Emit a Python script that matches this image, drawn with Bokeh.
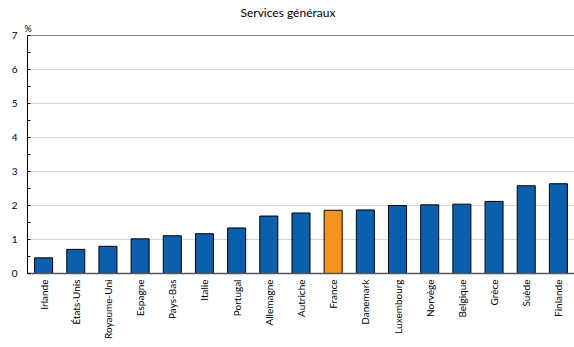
import math
from bokeh.plotting import figure
from bokeh.models import ColumnDataSource, Span, Title, FixedTicker
from bokeh.embed import file_html
from bokeh.resources import INLINE

countries = ["Irlande", "États-Unis", "Royaume-Uni", "Espagne", "Pays-Bas", "Italie",
             "Portugal", "Allemagne", "Autriche", "France", "Danemark", "Luxembourg",
             "Norvège", "Belgique", "Grèce", "Suède", "Finlande"]
values = [0.46, 0.71, 0.80, 1.02, 1.11, 1.17, 1.34, 1.69, 1.78, 1.86, 1.87, 2.00,
          2.02, 2.04, 2.12, 2.58, 2.64]
highlight = "France"
y_ticks = [0, 1, 2, 3, 4, 5, 6, 7]

BLUE = "#0b5fae"
ORANGE = "#f5931f"
FONT = "Lato"

colors = [ORANGE if c == highlight else BLUE for c in countries]
src = ColumnDataSource(dict(x=countries, top=values, color=colors))

p = figure(x_range=countries, y_range=(0, 7), width=574, height=347,
           output_backend="svg", toolbar_location=None, title=None,
           min_border_left=27, min_border_right=0, min_border_top=35,
           min_border_bottom=74)

p.add_layout(Title(text="%", align="left", offset=-3, text_font=FONT,
                   text_font_size="9px", text_font_style="normal",
                   text_color="#000000", standoff=3), "above")
p.add_layout(Title(text="Services généraux", align="left", offset=213,
                   text_font=FONT, text_font_size="12px",
                   text_font_style="normal", text_color="#000000",
                   standoff=0), "above")

p.vbar(x="x", top="top", width=0.56, source=src, fill_color="color",
       line_color="#000000", line_width=1)

p.outline_line_color = None
p.background_fill_color = "white"

p.xgrid.grid_line_color = None
p.ygrid.grid_line_color = "#d4d4d4"
p.ygrid.grid_line_width = 1
p.ygrid.ticker = FixedTicker(ticks=[1, 2, 3, 4, 5, 6])

p.add_layout(Span(location=7, dimension="width", line_color="#000000", line_width=1))

ya = p.yaxis[0]
ya.ticker = FixedTicker(ticks=y_ticks, minor_ticks=[0.5 + i for i in range(7)])
ya.axis_line_color = "#000000"
ya.major_tick_in = 3
ya.major_tick_out = 0
ya.minor_tick_in = 3
ya.minor_tick_out = 0
ya.major_tick_line_color = "#000000"
ya.minor_tick_line_color = "#000000"
ya.major_label_text_font = FONT
ya.major_label_text_font_size = "10px"
ya.major_label_text_color = "#000000"
ya.major_label_standoff = 10

xa = p.xaxis[0]
xa.axis_line_color = "#555555"
xa.axis_line_width = 1.5
xa.major_tick_line_color = None
xa.minor_tick_line_color = None
xa.major_tick_out = 0
xa.major_tick_in = 0
xa.major_label_orientation = math.pi / 2
xa.major_label_text_font = FONT
xa.major_label_text_font_size = "10px"
xa.major_label_text_color = "#000000"
xa.major_label_standoff = 6

open("out.html", "w").write(file_html(p, INLINE))
